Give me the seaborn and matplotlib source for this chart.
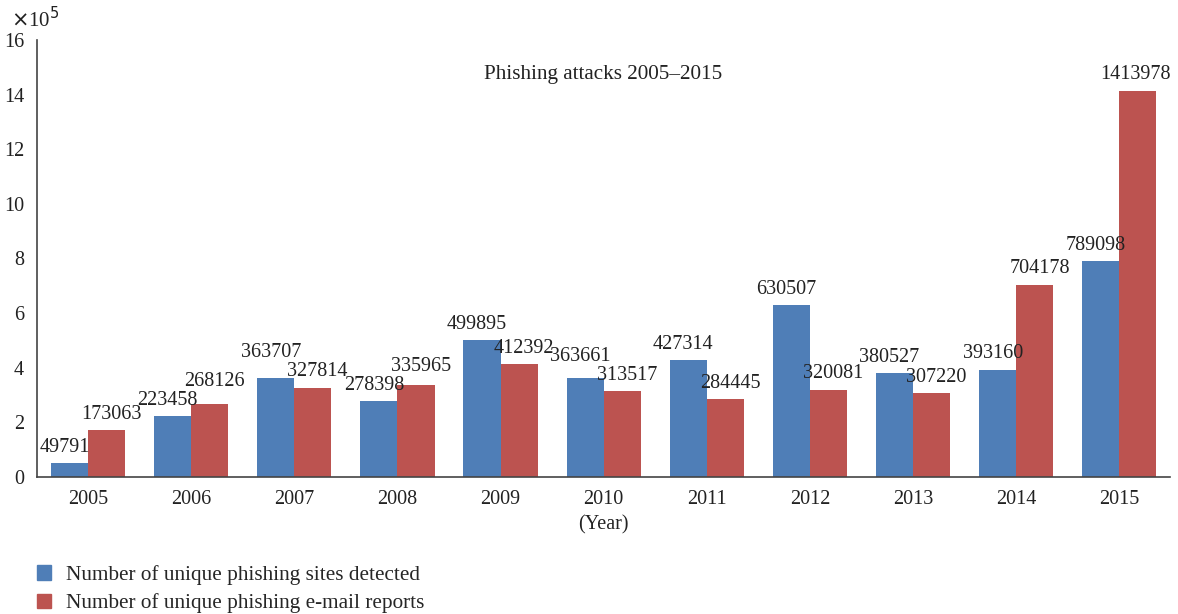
import pandas as pd
import matplotlib.pyplot as plt
import seaborn as sns

years = ['2005', '2006', '2007', '2008', '2009', '2010', '2011', '2012', '2013', '2014', '2015']
sites = [49791, 223458, 363707, 278398, 499895, 363661, 427314, 630507, 380527, 393160, 789098]
emails = [173063, 268126, 327814, 335965, 412392, 313517, 284445, 320081, 307220, 704178, 1413978]
series = ['Number of unique phishing sites detected', 'Number of unique phishing e-mail reports']
colors = ['#4F7EB7', '#BC5350']

df = pd.DataFrame({
    'year': years * 2,
    'value': sites + emails,
    'series': [series[0]] * len(years) + [series[1]] * len(years),
})

sns.set_style('white')
plt.rcParams['font.family'] = ['Liberation Serif', 'DejaVu Serif']

fig = plt.figure(figsize=(11.78, 6.14), dpi=100)
ax = fig.add_axes([0.031, 0.223, 0.962, 0.712])

sns.barplot(data=df, x='year', y='value', hue='series', palette=colors,
            width=0.72, linewidth=0, saturation=1, ax=ax, legend=False)

ymax = 16e5
ax.set_ylim(0, ymax)

# value labels: stagger the pair vertically when they would collide
px_per_unit = fig.get_figheight() * 100 * 0.712 / ymax
min_gap = 19  # px between baselines of a pair
base_pad = 4.5  # pt
for i in range(len(years)):
    pads = [base_pad, base_pad]
    diff = (sites[i] - emails[i]) * px_per_unit
    if abs(diff) < min_gap:
        hi = 0 if diff >= 0 else 1
        pads[hi] += (min_gap - abs(diff)) * 0.72
    for k, (cont, vals) in enumerate(zip(ax.containers, [sites, emails])):
        bar = cont.patches[i]
        xc = bar.get_x() + bar.get_width() / 2
        dx = -3.5 if k == 0 else (3.5 if i < len(years) - 1 else -2)
        ax.annotate(str(vals[i]), (xc, bar.get_height()),
                    xytext=(dx, pads[k]),
                    textcoords='offset points', ha='center', va='bottom',
                    fontsize=14.5, color='#222222')

ax.set_xlim(-0.5, len(years) - 0.51)
ax.set_yticks([i * 2e5 for i in range(9)])
ax.set_yticklabels([str(i * 2) for i in range(9)])
ax.tick_params(axis='both', length=0, labelsize=14.5, colors='#222222')
ax.tick_params(axis='x', pad=9)
ax.tick_params(axis='y', pad=9)
ax.set_xlabel('(Year)', fontsize=14.5, color='#222222', labelpad=5)
ax.set_ylabel('')
for s in ['top', 'right']:
    ax.spines[s].set_visible(False)
for s in ['left', 'bottom']:
    ax.spines[s].set_color('#444444')
    ax.spines[s].set_linewidth(1.2)

ax.text(0.5, 0.922, 'Phishing attacks 2005\u20132015', transform=ax.transAxes,
        ha='center', va='center', fontsize=15.2, color='#222222')
fig.text(0.009, 0.947, r'$\times$10$^5$', fontsize=15, color='#222222',
         ha='left', va='bottom')

handles = [plt.Rectangle((0, 0), 1, 1, color=c) for c in colors]
fig.legend(handles, series, loc='lower left', bbox_to_anchor=(0.031, 0.001),
           frameon=False, fontsize=15.3, handlelength=0.7, handleheight=0.7,
           handletextpad=0.7, labelspacing=0.4, borderpad=0, borderaxespad=0)

fig.savefig('out.png', dpi=100)
